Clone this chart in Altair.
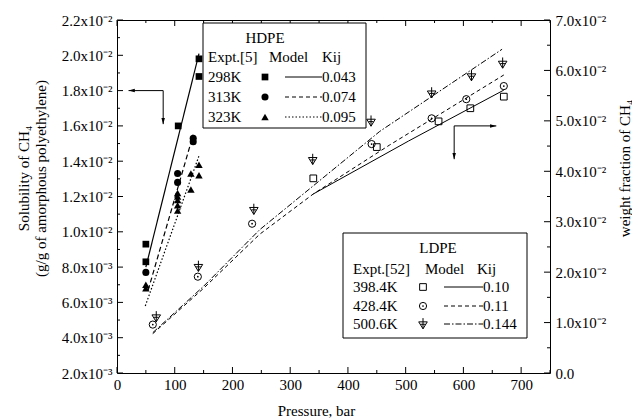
import altair as alt
import pandas as pd

FONT = "Liberation Serif"
FS = 15
W, H = 433, 353

# ---------------- data ----------------
# HDPE experimental (left axis, g/g)
h298_p = [50, 50, 106, 142, 142]
h298_s = [0.0093, 0.0083, 0.0160, 0.0188, 0.0198]
h313_p = [50, 105, 105, 132, 132]
h313_s = [0.0077, 0.0133, 0.0128, 0.0153, 0.0151]
h323_p = [50, 50, 105, 105, 105, 105, 105, 128, 128, 142, 142]
h323_s = [0.0070, 0.0068, 0.0122, 0.0120, 0.0118, 0.0115, 0.0112, 0.0133, 0.0124, 0.0138, 0.0132]
# HDPE model
m298_p = [50, 142]
m298_s = [0.0080, 0.0201]
m313_p = [54, 132]
m313_s = [0.0067, 0.0155]
m323_p = [49, 142]
m323_s = [0.0058, 0.0143]

# LDPE experimental (right axis, weight fraction)
l398_p = [340, 450, 557, 612, 670]
l398_w = [0.0386, 0.0448, 0.0499, 0.0525, 0.0548]
l428_p = [62, 140, 234, 441, 545, 605, 670]
l428_w = [0.0096, 0.0191, 0.0296, 0.0454, 0.0505, 0.0543, 0.0569]
l500_p = [68, 141, 237, 339, 440, 545, 614, 668]
l500_w = [0.0111, 0.0211, 0.0324, 0.0423, 0.0499, 0.0555, 0.0589, 0.0614]
# LDPE model
n398_p = [340, 505, 670]
n398_w = [0.0355, 0.0460, 0.0561]
n428_p = [62, 150, 247, 340, 472, 670]
n428_w = [0.0078, 0.0168, 0.0275, 0.0355, 0.0452, 0.0591]
n500_p = [62, 150, 247, 455, 667]
n500_w = [0.0080, 0.0172, 0.0284, 0.0479, 0.0642]

# axis ticks
x_major = [0, 100, 200, 300, 400, 500, 600, 700]
x_minor = [50, 150, 250, 350, 450, 550, 650, 750]
yl_major = [0.002, 0.004, 0.006, 0.008, 0.010, 0.012, 0.014, 0.016, 0.018, 0.020, 0.022]
yl_minor = [0.003, 0.005, 0.007, 0.009, 0.011, 0.013, 0.015, 0.017, 0.019, 0.021]
yr_major = [0.0, 0.01, 0.02, 0.03, 0.04, 0.05, 0.06, 0.07]
yr_minor = [0.005, 0.015, 0.025, 0.035, 0.045, 0.055, 0.065]

# annotation arrows (data coordinates)
arrowL_x = [80, 80]
arrowL_y = [0.0180, 0.0180]
arrowL_x2 = [20, 80]
arrowL_y2 = [0.0180, 0.0161]
arrowR_x = [584, 584]
arrowR_y = [0.0490, 0.0490]
arrowR_x2 = [657, 584]
arrowR_y2 = [0.0490, 0.0424]

# legend texts
hdpe_temps = ["298K", "313K", "323K"]
hdpe_kij = ["0.043", "0.074", "0.095"]
ldpe_temps = ["398.4K", "428.4K", "500.6K"]
ldpe_kij = ["0.10", "0.11", "0.144"]

# ---------------- scales & axes ----------------
xs = alt.Scale(domain=[0, 750], nice=False, zero=False)
ysL = alt.Scale(domain=[0.002, 0.022], nice=False, zero=False)
ysR = alt.Scale(domain=[0.0, 0.07], nice=False, zero=False)

x_axis = alt.Axis(values=x_major, format="d", ticks=False, domain=False, grid=False,
                  labelPadding=4, labelFont=FONT, labelFontSize=FS, labelColor="black",
                  labelFlush=False, labelOverlap=False,
                  title="Pressure, bar", titleFont=FONT, titleFontSize=FS,
                  titleFontWeight="normal", titleColor="black",
                  titleX=199, titleY=30, titleBaseline="top", titleAlign="center")
yL_axis = alt.Axis(values=yl_major, ticks=False, domain=False, grid=False,
                   labelExpr="datum.value < 0.0095 ? format(datum.value*1000, '.1f') + 'x10⁻³' : format(datum.value*100, '.1f') + 'x10⁻²'",
                   labelPadding=5, labelFont=FONT, labelFontSize=FS, labelColor="black",
                   labelFlush=False, labelOverlap=False,
                   title=["Solubility of CH₄", "(g/g of amorphous polyethylene)"],
                   titleFont=FONT, titleFontSize=FS, titleFontWeight="normal", titleColor="black",
                   titleAngle=270, titleX=-94, titleY=158, titleAlign="center",
                   titleBaseline="middle", titleLineHeight=17)
yR_axis = alt.Axis(values=yr_major, orient="right", ticks=False, domain=False, grid=False,
                   labelExpr="datum.value < 0.001 ? '0.0' : format(datum.value*100, '.1f') + 'x10⁻²'",
                   labelPadding=5, labelFont=FONT, labelFontSize=FS, labelColor="black",
                   labelFlush=False, labelOverlap=False,
                   title="weight fraction of CH₄", titleFont=FONT, titleFontSize=FS,
                   titleFontWeight="normal", titleColor="black",
                   titleAngle=270, titleX=74, titleY=148, titleAlign="center",
                   titleBaseline="middle")


def frame(px, py):
    return pd.DataFrame({"x": px, "y": py})


X = alt.X("x:Q", scale=xs, axis=x_axis)
YL = alt.Y("y:Q", scale=ysL, axis=yL_axis)
YR = alt.Y("y:Q", scale=ysR, axis=yR_axis)

# ---------------- left (HDPE) group ----------------
left_layers = [
    alt.Chart(frame(m298_p, m298_s)).mark_line(color="black", strokeWidth=1.2).encode(x=X, y=YL),
    alt.Chart(frame(m313_p, m313_s)).mark_line(color="black", strokeWidth=1.2, strokeDash=[5, 3]).encode(x=X, y=YL),
    alt.Chart(frame(m323_p, m323_s)).mark_line(color="black", strokeWidth=1.2, strokeDash=[1.5, 2]).encode(x=X, y=YL),
    alt.Chart(frame(h298_p, h298_s)).mark_point(shape="square", filled=True, color="black", size=45, opacity=1).encode(x=X, y=YL),
    alt.Chart(frame(h313_p, h313_s)).mark_point(shape="circle", filled=True, color="black", size=50, opacity=1).encode(x=X, y=YL),
    alt.Chart(frame(h323_p, h323_s)).mark_point(shape="triangle-up", filled=True, color="black", size=55, opacity=1).encode(x=X, y=YL),
    # left axis ticks (inward)
    alt.Chart(frame([0] * len(yl_major), yl_major)).mark_rule(color="black").encode(y=YL, x=alt.value(0), x2=alt.value(6)),
    alt.Chart(frame([0] * len(yl_minor), yl_minor)).mark_rule(color="black").encode(y=YL, x=alt.value(0), x2=alt.value(3)),
    # bottom and top ticks
    alt.Chart(frame(x_major, [0] * len(x_major))).mark_rule(color="black").encode(x=X, y=alt.value(H), y2=alt.value(H - 6)),
    alt.Chart(frame(x_minor, [0] * len(x_minor))).mark_rule(color="black").encode(x=X, y=alt.value(H), y2=alt.value(H - 3)),
    alt.Chart(frame(x_major, [0] * len(x_major))).mark_rule(color="black").encode(x=X, y=alt.value(0), y2=alt.value(6)),
    alt.Chart(frame(x_minor, [0] * len(x_minor))).mark_rule(color="black").encode(x=X, y=alt.value(0), y2=alt.value(3)),
    # left arrow
    alt.Chart(pd.DataFrame({"x": arrowL_x, "y": arrowL_y, "x2": arrowL_x2, "y2": arrowL_y2}))
    .mark_rule(color="black", strokeWidth=1).encode(x=X, y=YL, x2="x2:Q", y2="y2:Q"),
    alt.Chart(frame(arrowL_x2[:1], arrowL_y2[:1])).mark_point(shape="M0,0L2.5,-0.7L2.5,0.7Z", filled=True, color="black", size=25, opacity=1).encode(x=X, y=YL),
    alt.Chart(frame(arrowL_x2[1:], arrowL_y2[1:])).mark_point(shape="M0,0L-0.7,-2.5L0.7,-2.5Z", filled=True, color="black", size=25, opacity=1).encode(x=X, y=YL),
]
left = alt.layer(*left_layers)

# ---------------- right (LDPE) group ----------------
TRI_PLUS = "M-0.8,-0.4L0.8,-0.4L0,0.9Z M0,-1.1L0,0.9 M-0.45,0.05L0.45,0.05"
right_layers = [
    alt.Chart(frame(n398_p, n398_w)).mark_line(color="black", strokeWidth=1).encode(x=X, y=YR),
    alt.Chart(frame(n428_p, n428_w)).mark_line(color="black", strokeWidth=1, strokeDash=[4, 3]).encode(x=X, y=YR),
    alt.Chart(frame(n500_p, n500_w)).mark_line(color="black", strokeWidth=1, strokeDash=[6, 2, 1.5, 2]).encode(x=X, y=YR),
    alt.Chart(frame(l398_p, l398_w)).mark_point(shape="square", filled=False, color="black", size=45, strokeWidth=1, opacity=1).encode(x=X, y=YR),
    alt.Chart(frame(l428_p, l428_w)).mark_point(shape="circle", filled=False, color="black", size=52, strokeWidth=1, opacity=1).encode(x=X, y=YR),
    alt.Chart(frame(l428_p, l428_w)).mark_point(shape="circle", filled=True, color="black", size=3, opacity=1).encode(x=X, y=YR),
    alt.Chart(frame(l500_p, l500_w)).mark_point(shape=TRI_PLUS, filled=False, color="black", size=115, strokeWidth=1, opacity=1).encode(x=X, y=YR),
    # right axis ticks
    alt.Chart(frame([0] * len(yr_major), yr_major)).mark_rule(color="black").encode(y=YR, x=alt.value(W), x2=alt.value(W - 6)),
    alt.Chart(frame([0] * len(yr_minor), yr_minor)).mark_rule(color="black").encode(y=YR, x=alt.value(W), x2=alt.value(W - 3)),
    # right arrow
    alt.Chart(pd.DataFrame({"x": arrowR_x, "y": arrowR_y, "x2": arrowR_x2, "y2": arrowR_y2}))
    .mark_rule(color="black", strokeWidth=1).encode(x=X, y=YR, x2="x2:Q", y2="y2:Q"),
    alt.Chart(frame(arrowR_x2[:1], arrowR_y2[:1])).mark_point(shape="M0,0L-2.5,-0.7L-2.5,0.7Z", filled=True, color="black", size=25, opacity=1).encode(x=X, y=YR),
    alt.Chart(frame(arrowR_x2[1:], arrowR_y2[1:])).mark_point(shape="M0,0L-0.7,-2.5L0.7,-2.5Z", filled=True, color="black", size=25, opacity=1).encode(x=X, y=YR),
]
right = alt.layer(*right_layers)

# ---------------- legends (drawn annotations) ----------------
dummy = pd.DataFrame({"k": [0]})


def ltext(s, x, y, align="left"):
    return alt.Chart(dummy).mark_text(text=s, align=align, baseline="middle", font=FONT,
                                      fontSize=FS, color="black").encode(x=alt.value(x), y=alt.value(y))


def lrule(x1, x2, y, dash=None):
    kw = dict(color="black", strokeWidth=1)
    if dash:
        kw["strokeDash"] = dash
    return alt.Chart(dummy).mark_rule(**kw).encode(x=alt.value(x1), x2=alt.value(x2), y=alt.value(y))


def lpoint(x, y, **kw):
    return alt.Chart(dummy).mark_point(color="black", opacity=1, **kw).encode(x=alt.value(x), y=alt.value(y))


def lbox(x1, x2, y1, y2):
    return alt.Chart(dummy).mark_rect(fill="white", stroke="black", strokeWidth=1).encode(
        x=alt.value(x1), x2=alt.value(x2), y=alt.value(y1), y2=alt.value(y2))


leg = [lbox(86, 249, 3, 108), ltext("HDPE", 148, 18, "center"),
       ltext("Expt.[5]", 91, 37), ltext("Model", 152, 37), ltext("Kij", 205, 37)]
h_rows = [57, 77, 97]
h_marks = [dict(shape="square", filled=True, size=45), dict(shape="circle", filled=True, size=50),
           dict(shape="triangle-up", filled=True, size=55)]
h_dash = [None, [4, 3], [1.5, 2]]
for t, k, ry, mk, d in zip(hdpe_temps, hdpe_kij, h_rows, h_marks, h_dash):
    leg += [ltext(t, 91, ry), lpoint(148, ry, **mk), lrule(168, 205, ry, d), ltext(k, 205, ry)]

leg += [lbox(226, 410, 213, 318), ltext("LDPE", 321, 228, "center"),
        ltext("Expt.[52]", 236, 249), ltext("Model", 308, 249), ltext("Kij", 360, 249)]
l_rows = [267, 286, 304]
l_dash = [None, [4, 3], [6, 2, 1.5, 2]]
for i, (t, k, ry, d) in enumerate(zip(ldpe_temps, ldpe_kij, l_rows, l_dash)):
    leg += [ltext(t, 236, ry), lrule(327, 366, ry, d), ltext(k, 366, ry)]
    if i == 0:
        leg.append(lpoint(306, ry, shape="square", filled=False, size=45, strokeWidth=1))
    elif i == 1:
        leg += [lpoint(306, ry, shape="circle", filled=False, size=52, strokeWidth=1),
                lpoint(306, ry, shape="circle", filled=True, size=3)]
    else:
        leg.append(lpoint(306, ry, shape=TRI_PLUS, filled=False, size=115, strokeWidth=1))

legend = alt.layer(*leg)

chart = (
    alt.layer(left, right, legend)
    .resolve_scale(y="independent")
    .properties(width=W, height=H, autosize=alt.AutoSizeParams(type="none"),
                padding={"left": 109, "top": 12, "right": 82, "bottom": 45},
                background="white")
    .configure_view(stroke="black", strokeWidth=1)
)

chart.save("out.html", embed_options={"renderer": "svg", "actions": False})
